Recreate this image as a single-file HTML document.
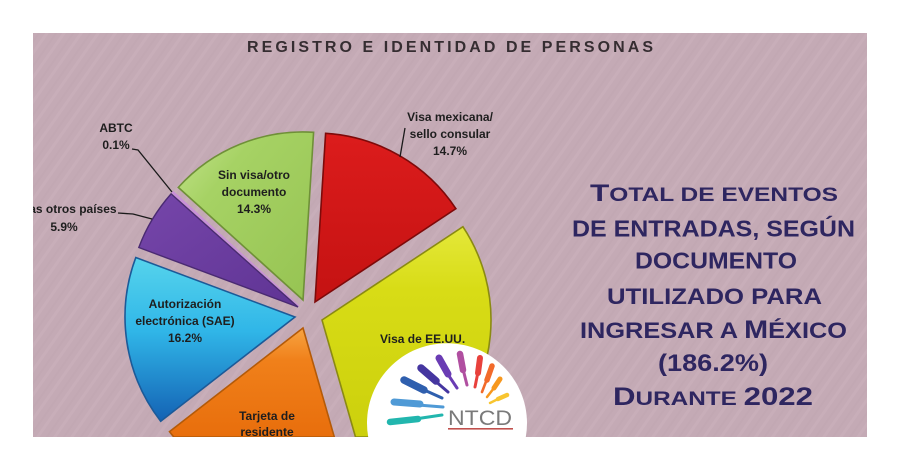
<!DOCTYPE html>
<html>
<head>
<meta charset="utf-8">
<style>
  html,body{margin:0;padding:0;background:#fff;width:900px;height:471px;overflow:hidden;}
  svg{display:block;position:absolute;left:0;top:0;}
  .lbl{font-family:"Liberation Sans",sans-serif;font-weight:bold;font-size:12px;fill:#1e1e1e;}
  .ttl{font-family:"Liberation Sans",sans-serif;font-weight:bold;fill:#2e2660;}
</style>
</head>
<body>
<svg width="900" height="471" viewBox="0 0 900 471" xmlns="http://www.w3.org/2000/svg">
  <defs>
    <clipPath id="content"><rect x="33" y="33" width="834" height="404"/></clipPath>
    <pattern id="streaks" width="14" height="14" patternUnits="userSpaceOnUse" patternTransform="rotate(35)">
      <rect width="14" height="14" fill="#c4aab5"/>
      <rect x="0" y="0" width="3" height="14" fill="#ccb5bf" opacity="0.45"/>
      <rect x="8" y="0" width="2" height="14" fill="#bea3af" opacity="0.3"/>
    </pattern>
    <linearGradient id="gRed" x1="0" y1="0" x2="0" y2="1">
      <stop offset="0" stop-color="#dc1c1c"/>
      <stop offset="1" stop-color="#c41212"/>
    </linearGradient>
    <linearGradient id="gYel" x1="0" y1="0" x2="0" y2="1">
      <stop offset="0" stop-color="#e4e83a"/>
      <stop offset="0.3" stop-color="#d8dc16"/>
      <stop offset="1" stop-color="#ccd00c"/>
    </linearGradient>
    <linearGradient id="gOra" x1="0" y1="0" x2="0" y2="1">
      <stop offset="0" stop-color="#f7a442"/>
      <stop offset="0.3" stop-color="#f0801a"/>
      <stop offset="1" stop-color="#e86e0c"/>
    </linearGradient>
    <linearGradient id="gBlu" x1="0" y1="0" x2="0" y2="1">
      <stop offset="0" stop-color="#56d4ec"/>
      <stop offset="0.45" stop-color="#30b6e8"/>
      <stop offset="1" stop-color="#1462b4"/>
    </linearGradient>
    <linearGradient id="gPur" x1="0" y1="0" x2="1" y2="1">
      <stop offset="0" stop-color="#7646aa"/>
      <stop offset="1" stop-color="#5f3494"/>
    </linearGradient>
    <linearGradient id="gGrn" x1="0" y1="0" x2="1" y2="1">
      <stop offset="0" stop-color="#c4e48c"/>
      <stop offset="0.3" stop-color="#a6d264"/>
      <stop offset="1" stop-color="#96c352"/>
    </linearGradient>
  </defs>

  <g clip-path="url(#content)">
    <rect x="33" y="33" width="834" height="404" fill="url(#streaks)"/>

    <!-- header -->
    <text x="247" y="52" font-family="Liberation Sans, sans-serif" font-weight="bold" font-size="16" fill="#352d31" textLength="406" lengthAdjust="spacing">REGISTRO E IDENTIDAD DE PERSONAS</text>

    <!-- pie slices -->
    <path d="M315,302 L325.6,133.3 A169,169 0 0 1 455.9,208.7 Z" fill="url(#gRed)" stroke="#7e0a0a" stroke-width="1.6"/>
    <path d="M322,320 L462.9,226.7 A169,169 0 0 1 444,437 L355.5,437 Z" fill="url(#gYel)" stroke="#8a8a12" stroke-width="1.6"/>
    <path d="M303,328 L334.3,437 L173.8,437 A169,169 0 0 1 169.5,431.6 Z" fill="url(#gOra)" stroke="#b45a08" stroke-width="1.6"/>
    <path d="M295,317 L160.7,421.2 A170,170 0 0 1 135.8,257.5 Z" fill="url(#gBlu)" stroke="#1c5a98" stroke-width="1.6"/>
    <path d="M298,307 L138.8,247.5 A170,170 0 0 1 171.1,193.9 Z" fill="url(#gPur)" stroke="#4a2a72" stroke-width="1.4"/>
    <path d="M299,306 L172.1,192.9 A170,170 0 0 1 173.3,191.6 Z" fill="#c890d8" stroke="#c890d8" stroke-width="1"/>
    <path d="M303,300 L178.3,187.4 A168,168 0 0 1 313.6,132.3 Z" fill="url(#gGrn)" stroke="#6f9038" stroke-width="1.6"/>

    <!-- leader lines -->
    <polyline points="132,149 138,150 172,192" fill="none" stroke="#1a1a1a" stroke-width="1.3"/>
    <polyline points="118,213 133,214 152,219" fill="none" stroke="#1a1a1a" stroke-width="1.3"/>
    <polyline points="405,128 400,157" fill="none" stroke="#1a1a1a" stroke-width="1.3"/>

    <!-- labels -->
    <text class="lbl" x="116" y="132" text-anchor="middle">ABTC</text>
    <text class="lbl" x="116" y="149" text-anchor="middle">0.1%</text>

    <text class="lbl" x="64" y="213" text-anchor="middle">Visas otros países</text>
    <text class="lbl" x="64" y="231" text-anchor="middle">5.9%</text>

    <text class="lbl" x="450" y="121" text-anchor="middle">Visa mexicana/</text>
    <text class="lbl" x="450" y="138" text-anchor="middle">sello consular</text>
    <text class="lbl" x="450" y="155" text-anchor="middle">14.7%</text>

    <text class="lbl" x="254" y="179" text-anchor="middle">Sin visa/otro</text>
    <text class="lbl" x="254" y="196" text-anchor="middle">documento</text>
    <text class="lbl" x="254" y="213" text-anchor="middle">14.3%</text>

    <text class="lbl" x="185" y="308" text-anchor="middle">Autorización</text>
    <text class="lbl" x="185" y="325" text-anchor="middle">electrónica (SAE)</text>
    <text class="lbl" x="185" y="342" text-anchor="middle">16.2%</text>

    <text class="lbl" x="267" y="420" text-anchor="middle">Tarjeta de</text>
    <text class="lbl" x="267" y="436" text-anchor="middle">residente</text>

    <text class="lbl" x="380" y="343">Visa de EE.UU.</text>

    <!-- right title -->
    <text class="ttl" x="590" y="201" textLength="248" lengthAdjust="spacingAndGlyphs"><tspan font-size="24.5">T</tspan><tspan font-size="19">OTAL DE EVENTOS</tspan></text>
    <text class="ttl" x="572" y="236.5" font-size="23" textLength="283" lengthAdjust="spacingAndGlyphs">DE ENTRADAS, SEGÚN</text>
    <text class="ttl" x="635" y="268.5" font-size="23" textLength="162" lengthAdjust="spacingAndGlyphs">DOCUMENTO</text>
    <text class="ttl" x="607" y="304" font-size="22" textLength="215" lengthAdjust="spacingAndGlyphs">UTILIZADO PARA</text>
    <text class="ttl" x="580" y="338" textLength="267" lengthAdjust="spacingAndGlyphs"><tspan font-size="22">INGRESAR A </tspan><tspan font-size="25">M</tspan><tspan font-size="22">ÉXICO</tspan></text>
    <text class="ttl" x="658" y="371" font-size="24.5" textLength="110" lengthAdjust="spacingAndGlyphs">(186.2%)</text>
    <text class="ttl" x="613" y="405" textLength="200" lengthAdjust="spacingAndGlyphs"><tspan font-size="25">D</tspan><tspan font-size="19.5">URANTE </tspan><tspan font-size="25">2022</tspan></text>

    <!-- logo -->
    <path d="M368.2,437 A80,80 0 1 1 525.8,437 Z" fill="#ffffff"/>
    <g stroke-linecap="round" fill="none">
      <line x1="415" y1="419" x2="442" y2="415" stroke="#22b6ae" stroke-width="3"/>
      <line x1="390" y1="422" x2="418" y2="419" stroke="#22b6ae" stroke-width="6.5"/>
      <line x1="418" y1="405" x2="443" y2="407" stroke="#4f9ad6" stroke-width="3"/>
      <line x1="394" y1="402" x2="420" y2="404" stroke="#4f9ad6" stroke-width="7"/>
      <line x1="422" y1="389" x2="442" y2="398" stroke="#2f5fae" stroke-width="3"/>
      <line x1="404" y1="380" x2="424" y2="390" stroke="#2f5fae" stroke-width="7.5"/>
      <line x1="434" y1="380" x2="448" y2="392" stroke="#4536a0" stroke-width="3"/>
      <line x1="421" y1="368" x2="436" y2="381" stroke="#4536a0" stroke-width="7.5"/>
      <line x1="447" y1="373" x2="457" y2="388" stroke="#6a3cb4" stroke-width="3"/>
      <line x1="439" y1="358" x2="448" y2="374" stroke="#6a3cb4" stroke-width="7"/>
      <line x1="463" y1="369" x2="467" y2="385" stroke="#b04fa0" stroke-width="3"/>
      <line x1="460" y1="354" x2="463" y2="370" stroke="#b04fa0" stroke-width="6.5"/>
      <line x1="478" y1="372" x2="475" y2="387" stroke="#e8413c" stroke-width="3"/>
      <line x1="480" y1="358" x2="478" y2="373" stroke="#e8413c" stroke-width="6"/>
      <line x1="487" y1="379" x2="482" y2="392" stroke="#f26a2a" stroke-width="2.6"/>
      <line x1="492" y1="366" x2="487" y2="380" stroke="#f26a2a" stroke-width="5.5"/>
      <line x1="494" y1="388" x2="487" y2="397" stroke="#f7981e" stroke-width="2.5"/>
      <line x1="500" y1="379" x2="494" y2="388" stroke="#f7981e" stroke-width="5"/>
      <line x1="498" y1="399" x2="490" y2="403" stroke="#f8c530" stroke-width="2.4"/>
      <line x1="507" y1="395" x2="498" y2="399" stroke="#f8c530" stroke-width="4.5"/>
    </g>
    <text x="448" y="425" font-family="Liberation Sans, sans-serif" font-size="21" fill="#7a7a7a" textLength="64" lengthAdjust="spacingAndGlyphs">NTCD</text>
    <rect x="448" y="428" width="65" height="1.6" fill="#c0504d"/>
  </g>
</svg>
</body>
</html>
